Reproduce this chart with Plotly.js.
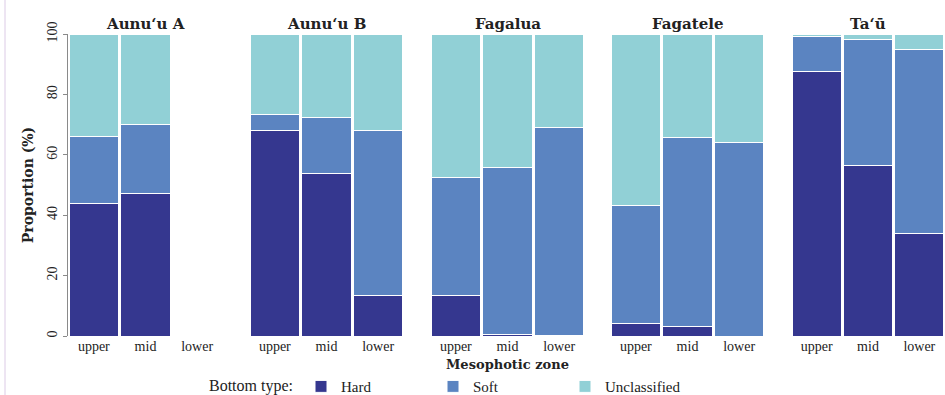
<!DOCTYPE html>
<html>
<head>
<meta charset="utf-8">
<script src="https://cdn.plot.ly/plotly-3.0.1.min.js"></script>
<style>html,body{margin:0;padding:0;background:#fff;}#chart{width:945px;height:395px;}</style>
</head>
<body>
<div id="chart"></div>
<script>
// ---- data ----
const sites = ['Aunu‘u A', 'Aunu‘u B', 'Fagalua', 'Fagatele', 'Ta‘ū'];
const zones = ['upper', 'mid', 'lower'];
// rows: sites, columns: zones (percent)
const hard = [
  [43.8, 47.1, null],
  [67.9, 53.8, 13.3],
  [13.3, 0.4, 0.2],
  [4.1, 3.0, 0],
  [87.6, 56.3, 34.1]
];
const soft = [
  [22.4, 22.8, null],
  [5.3, 18.5, 54.8],
  [39.2, 55.5, 68.8],
  [39.2, 62.7, 64.2],
  [11.7, 41.8, 60.7]
];
const unclassified = [
  [33.8, 30.1, null],
  [26.8, 27.7, 31.9],
  [47.5, 44.1, 31.0],
  [56.7, 34.3, 35.8],
  [0.7, 1.9, 5.2]
];
const seriesNames = ['Hard', 'Soft', 'Unclassified'];

// ---- style ----
const colors = ['#35378f', '#5b84c1', '#91d0d6'];
const W = 945;
const panelPx = [[68, 223], [249, 404], [430, 585], [610, 765], [791, 945]];
const serif = 'Liberation Serif';
const serifBold = 'DejaVu Serif';

const series = [hard, soft, unclassified];
const traces = [];
sites.forEach((site, i) => {
  series.forEach((arr, s) => {
    traces.push({
      type: 'bar',
      name: seriesNames[s],
      x: zones,
      y: arr[i],
      xaxis: i === 0 ? 'x' : 'x' + (i + 1),
      yaxis: i === 0 ? 'y' : 'y' + (i + 1),
      marker: {color: colors[s], line: {color: '#ffffff', width: 1}},
      showlegend: i === 0,
      hoverinfo: 'x+y+name'
    });
  });
});

const layout = {
  width: 945, height: 395,
  margin: {l: 0, r: 0, t: 34, b: 59, autoexpand: false},
  paper_bgcolor: '#ffffff',
  plot_bgcolor: '#ffffff',
  barmode: 'stack',
  bargap: 0.04,
  font: {family: serif, size: 13, color: '#222'},
  annotations: [],
  shapes: [{type: 'line', xref: 'paper', yref: 'paper', x0: 5 / W, x1: 5 / W, y0: -0.2, y1: 1.12,
            line: {color: '#dccbe6', width: 1}}],
  legend: {orientation: 'h', x: 207 / W, xanchor: 'left', y: -0.113, yanchor: 'top',
           entrywidth: 87, entrywidthmode: 'pixels', traceorder: 'normal',
           title: {text: 'Bottom type:', side: 'left', font: {family: serif, size: 16, color: '#222'}},
           font: {family: serif, size: 15, color: '#222'}, bgcolor: 'rgba(0,0,0,0)'}
};

panelPx.forEach((p, i) => {
  const xk = i === 0 ? 'xaxis' : 'xaxis' + (i + 1);
  const yk = i === 0 ? 'yaxis' : 'yaxis' + (i + 1);
  const xa = i === 0 ? 'x' : 'x' + (i + 1);
  layout[xk] = {
    domain: [p[0] / W, p[1] / W],
    anchor: i === 0 ? 'y' : 'y' + (i + 1),
    type: 'category', categoryorder: 'array', categoryarray: zones,
    range: [-0.5, 2.5],
    showline: false, showgrid: false, zeroline: false,
    ticks: '', ticklen: 0,
    tickfont: {family: serif, size: 14, color: '#222'}
  };
  layout[yk] = {
    domain: [0, 1],
    anchor: xa,
    range: [0, 100],
    showgrid: false, zeroline: false,
    showline: i === 0, linecolor: '#8a8a8a', linewidth: 1,
    showticklabels: i === 0,
    ticks: i === 0 ? 'outside' : '', ticklen: 4, tickcolor: '#8a8a8a',
    tickvals: [0, 20, 40, 60, 80, 100],
    tickangle: -90,
    tickfont: {family: serif, size: 14, color: '#222'}
  };
  if (i === 0) {
    layout[yk].title = {text: 'Proportion (%)', font: {family: serifBold, size: 14, color: '#222', weight: 'bold'}, standoff: 8};
  }
  if (i === 2) {
    layout[xk].title = {text: 'Mesophotic zone', font: {family: serifBold, size: 13, color: '#222', weight: 'bold'}, standoff: 6};
  }
  layout.annotations.push({
    text: sites[i], xref: 'paper', yref: 'paper',
    x: (p[0] + p[1]) / 2 / W, y: 1, yanchor: 'bottom', xanchor: 'center', yshift: -1,
    showarrow: false, font: {family: serifBold, size: 15, color: '#222', weight: 'bold'}
  });
});

Plotly.newPlot('chart', traces, layout, {displayModeBar: false, responsive: false});
</script>
</body>
</html>
